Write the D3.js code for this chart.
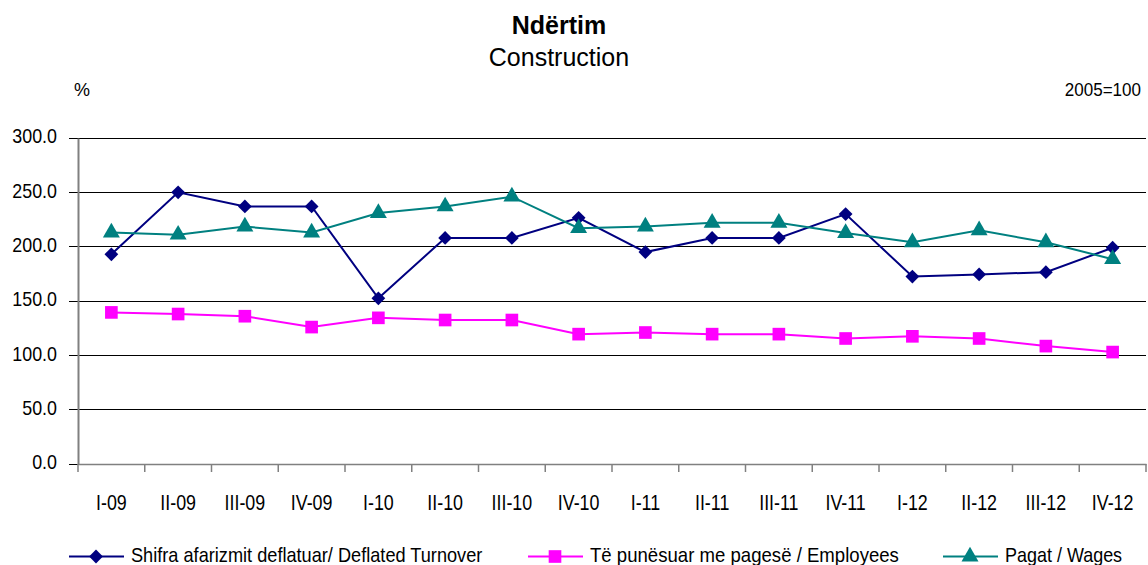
<html>
<style>
body { margin: 0; background: #fff; }
text { font-family: "Liberation Sans", Arial, sans-serif; }
</style>
<body>
<script src="https://cdn.jsdelivr.net/npm/d3@7"></script>
<script>

var categories = ["I-09","II-09","III-09","IV-09","I-10","II-10","III-10","IV-10",
                  "I-11","II-11","III-11","IV-11","I-12","II-12","III-12","IV-12"];

var turnover  = [193, 250, 237, 237, 152.5, 208, 208, 226.5, 195, 208, 208, 230, 172.5, 174.5, 176.5, 199];
var employees = [139.5, 138, 136, 126, 134.5, 132.5, 132.5, 119.5, 121, 119.5, 119.5, 115.5, 117.5, 115.5, 108.5, 103];
var wages     = [213, 211, 218.5, 213, 231, 237, 246, 217, 218.5, 222, 222, 212.5, 204, 215, 204, 188.5];

var yTicks = [0, 50, 100, 150, 200, 250, 300];

var series = [
  {name: "Shifra afarizmit deflatuar/ Deflated Turnover", values: turnover,  color: "#000080", shape: "diamond", lx: 69, k: 0.865},
  {name: "Të punësuar me pagesë / Employees",              values: employees, color: "#ff00ff", shape: "square",  lx: 528, k: 0.885},
  {name: "Pagat / Wages",                                  values: wages,     color: "#008080", shape: "triangle", lx: 943, k: 0.855}
];

var width = 1148, height = 565;
var mLeft = 78, mRight = 1146, mTop = 138, mBottom = 464;

// squeeze text horizontally, the source font is a bit narrow
function squeeze(sel, k) {
  sel.each(function() {
    var w = this.getComputedTextLength();
    d3.select(this).attr("textLength", w * k).attr("lengthAdjust", "spacingAndGlyphs");
  });
}

var svg = d3.select("body").append("svg")
    .attr("width", width)
    .attr("height", height);

var x = d3.scaleBand()
    .domain(categories)
    .range([mLeft, mRight]);

var y = d3.scaleLinear()
    .domain([0, 300])
    .range([mBottom, mTop]);

// titles
svg.append("text").attr("x", 559).attr("y", 34).attr("text-anchor", "middle")
    .style("font-size", "25px").style("font-weight", "bold").text("Ndërtim");
svg.append("text").attr("x", 559).attr("y", 66).attr("text-anchor", "middle")
    .style("font-size", "25px").text("Construction");
svg.append("text").attr("x", 74).attr("y", 96).style("font-size", "18px").text("%");
svg.append("text").attr("x", 1141).attr("y", 96).attr("text-anchor", "end")
    .style("font-size", "18.5px").text("2005=100").call(squeeze, 0.92);

// gridlines
svg.append("g").selectAll("line")
    .data(yTicks)
  .enter().append("line")
    .attr("x1", mLeft - 9).attr("x2", mRight)
    .attr("y1", d => y(d)).attr("y2", d => y(d))
    .attr("stroke", "#000").attr("stroke-width", 1)
    .attr("shape-rendering", "crispEdges");

// y axis
var yAxis = svg.append("g")
    .attr("transform", "translate(" + mLeft + ",0)")
    .call(d3.axisLeft(y).tickValues(yTicks).tickFormat(d3.format(".1f")).tickSize(0).tickPadding(21));
yAxis.select(".domain").attr("stroke", "#808080").attr("stroke-width", 2);
yAxis.selectAll("text")
    .style("font-size", "21px").style("font-family", "Liberation Sans, Arial, sans-serif")
    .attr("fill", "#000").attr("y", -2)
    .call(squeeze, 0.85);

// x axis
var xAxis = svg.append("g")
    .attr("transform", "translate(0," + mBottom + ")")
    .call(d3.axisBottom(x).tickSize(0));
xAxis.select(".domain").attr("stroke", "#808080").attr("stroke-width", 1.5);
xAxis.selectAll("text")
    .style("font-size", "21.5px").style("font-family", "Liberation Sans, Arial, sans-serif")
    .attr("fill", "#000").attr("dy", null).attr("y", 46)
    .call(squeeze, 0.83);
svg.append("g").selectAll("line")
    .data(categories.concat(["end"]))
  .enter().append("line")
    .attr("x1", (d, i) => mLeft + i * x.step()).attr("x2", (d, i) => mLeft + i * x.step())
    .attr("y1", mBottom).attr("y2", mBottom + 8)
    .attr("stroke", "#808080").attr("stroke-width", 1.5);

var symbols = {
  diamond: d3.symbol().type(d3.symbolSquare).size(95),
  square: d3.symbol().type(d3.symbolSquare).size(160),
  triangle: d3.symbol().type(d3.symbolTriangle).size(125)
};
var rot = {diamond: 45, square: 0, triangle: 0};

var line = d3.line()
    .x((d, i) => x(categories[i]) + x.bandwidth() / 2)
    .y(d => y(d));

series.forEach(function(s) {
  var g = svg.append("g");
  g.append("path")
    .attr("d", line(s.values))
    .attr("fill", "none")
    .attr("stroke", s.color)
    .attr("stroke-width", 2);
  g.selectAll("path.pt")
    .data(s.values)
  .enter().append("path")
    .attr("class", "pt")
    .attr("d", symbols[s.shape])
    .attr("transform", (d, i) => "translate(" + (x(categories[i]) + x.bandwidth() / 2) + "," + y(d) + ") rotate(" + rot[s.shape] + ")")
    .attr("fill", s.color);

  // legend
  var lg = svg.append("g").attr("transform", "translate(" + s.lx + ",556.5)");
  lg.append("line").attr("x1", 0).attr("x2", 55).attr("y1", 0).attr("y2", 0)
    .attr("stroke", s.color).attr("stroke-width", 2);
  lg.append("path").attr("d", symbols[s.shape]).attr("transform", "translate(27,0) rotate(" + rot[s.shape] + ")").attr("fill", s.color);
  lg.append("text").attr("x", 62).attr("y", 5.5).style("font-size", "21px")
    .text(s.name).call(squeeze, s.k);
});

</script>
</body>
</html>
